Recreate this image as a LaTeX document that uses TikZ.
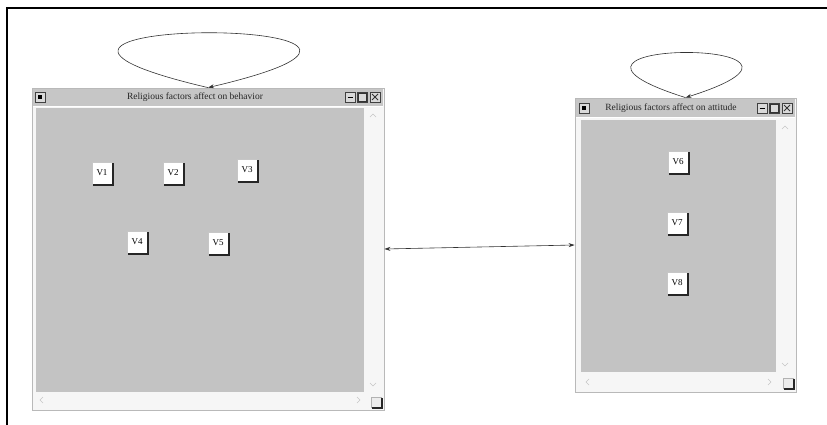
\documentclass[tikz,border=0pt]{standalone}
\usepackage{fontspec}
\setmainfont{Liberation Serif}
\usetikzlibrary{arrows.meta}

\tikzset{
  winframe/.style={draw=gray!55, line width=0.8pt, inner sep=0pt},
  titletext/.style={font=\fontsize{9.5}{10}\selectfont, text=black!85, inner sep=0pt},
  vbox/.style={draw=gray!45, fill=white, minimum width=20pt, minimum height=22pt,
    inner sep=0pt, font=\fontsize{9}{10}\selectfont},
  tbtn/.style={draw=black!75, fill=gray!30, minimum width=10pt, minimum height=10pt, inner sep=0pt},
  corner/.style={draw=gray!60, fill=gray!15, minimum size=10pt, inner sep=0pt},
  bevel/.style={black!85, line width=1.6pt},
  scrollmark/.style={gray!45, line width=0.6pt},
  link/.style={-{Stealth[length=6pt,width=4pt]}, black!80, line width=0.6pt},
}

\begin{document}
\begin{tikzpicture}[x=1pt,y=-1pt]
\useasboundingbox (0,0) rectangle (827,425);

% screen edge
\draw[line width=1.6pt] (7,425) -- (7,8) -- (827,8);

% behavior window
\fill[gray!7] (32,88) rectangle (384,410);
\fill[gray!45] (33,89) rectangle (383,106);
\draw[white, line width=1pt] (33,107) -- (383,107);
\fill[gray!47] (36,108) rectangle (364,392);
\node[winframe, minimum width=352pt, minimum height=322pt] (behav) at (208,249) {};
\node[titletext] (behavtitle) at (195,97) {Religious factors affect on behavior};
\node[tbtn] (bicon) at (40,97) {\rule{4pt}{4pt}};
\node[tbtn] (bmin) at (350,97) {\raisebox{-3pt}{\rule{5pt}{1pt}}};
\node[tbtn] (bmax) at (362,97) {};
\draw[black!80] (358,93) rectangle (366,101);
\node[tbtn] (bclose) at (375,97) {};
\draw[black!80, line width=0.8pt] (372,94) -- (378,100) (372,100) -- (378,94);
\node[corner] (bcorner) at (376,402) {};
\draw[scrollmark] (370,117) -- (373,114) -- (376,117);
\draw[scrollmark] (370,383) -- (373,386) -- (376,383);
\draw[scrollmark] (43,397) -- (40,400) -- (43,403);
\draw[scrollmark] (357,397) -- (360,400) -- (357,403);

\node[vbox] (v1) at (102,173) {V1};
\node[vbox] (v2) at (173,173) {V2};
\node[vbox] (v3) at (247,170) {V3};
\node[vbox] (v4) at (137,242) {V4};
\node[vbox] (v5) at (218,243) {V5};

% attitude window
\fill[gray!7] (575,98) rectangle (796,392);
\fill[gray!45] (576,99) rectangle (795,117);
\draw[white, line width=1pt] (576,118) -- (795,118);
\fill[gray!47] (581,120) rectangle (776,372);
\node[winframe, minimum width=221pt, minimum height=294pt] (attit) at (685.5,245) {};
\node[titletext] (attittitle) at (671,108) {Religious factors affect on attitude};
\node[tbtn] (aicon) at (584,108) {\rule{4pt}{4pt}};
\node[tbtn] (amin) at (762,108) {\raisebox{-3pt}{\rule{5pt}{1pt}}};
\node[tbtn] (amax) at (774,108) {};
\draw[black!80] (770,104) rectangle (778,112);
\node[tbtn] (aclose) at (787,108) {};
\draw[black!80, line width=0.8pt] (784,105) -- (790,111) (784,111) -- (790,105);
\node[corner] (acorner) at (788,383) {};
\draw[scrollmark] (782,129) -- (785,126) -- (788,129);
\draw[scrollmark] (782,363) -- (785,366) -- (788,363);
\draw[scrollmark] (589,379) -- (586,382) -- (589,385);
\draw[scrollmark] (768,379) -- (771,382) -- (768,385);

\node[vbox] (v6) at (678,162) {V6};
\node[vbox] (v7) at (677,223) {V7};
\node[vbox] (v8) at (677,283) {V8};

% raised edges of the boxes
\foreach \n in {v1,v2,v3,v4,v5,v6,v7,v8,bcorner,acorner}
  \draw[bevel] ([xshift=1pt,yshift=-0.8pt]\n.south west) -- ([xshift=0.8pt,yshift=-0.8pt]\n.south east)
    -- ([xshift=0.8pt,yshift=-1pt]\n.north east);

% loops and link
\draw[link] (behav.north) .. controls +(-312,-73) and +(312,-73) .. (behav.north);
\draw[link] (attit.north) .. controls +(-190,-60) and +(190,-60) .. (attit.north);
\draw[link, {Stealth[length=6pt,width=4pt]}-{Stealth[length=6pt,width=4pt]}] (behav.east) -- (attit.west);
\end{tikzpicture}
\end{document}
